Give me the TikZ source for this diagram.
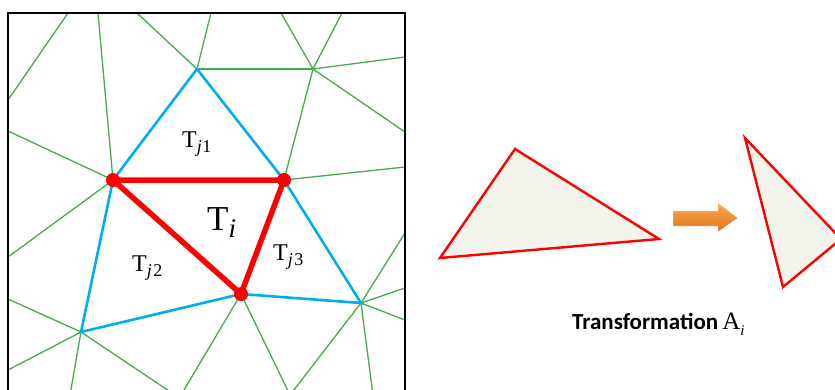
\documentclass[tikz,border=0pt]{standalone}
\usepackage{fontspec}
\setmainfont{Liberation Serif}
\newfontfamily\carlito{Carlito}
\definecolor{meshgreen}{RGB}{70,172,70}
\definecolor{meshblue}{RGB}{0,174,239}
\definecolor{trifill}{RGB}{243,242,235}
\definecolor{arrowtop}{RGB}{249,168,78}
\definecolor{arrowbot}{RGB}{226,116,30}
\tikzset{
  greenedge/.style={draw=meshgreen,line width=1.3pt},
  blueedge/.style={draw=meshblue,line width=2.6pt,line cap=round},
  rededge/.style={draw=red,line width=5.5pt,line cap=round},
  reddot/.style={fill=red},
  lbl/.style={anchor=base west,inner sep=0pt},
  tri/.style={draw=red,fill=trifill,line width=2.4pt,line join=miter},
}
\begin{document}
\begin{tikzpicture}[x=1pt,y=-1pt]
\useasboundingbox (0,0) rectangle (835,389);
% mesh vertices
\coordinate (A) at (197,69);
\coordinate (B) at (113,180);
\coordinate (C) at (284,180);
\coordinate (D) at (241,294);
\coordinate (E) at (81,332);
\coordinate (F) at (361,303);
\coordinate (G) at (313,69);
% boundary points
\coordinate (t1) at (68,13);  \coordinate (t2) at (98,13);
\coordinate (t3) at (137,13); \coordinate (t4) at (211,13);
\coordinate (t5) at (281,13); \coordinate (t6) at (342,13);
\coordinate (l1) at (8,100);  \coordinate (l2) at (8,131);
\coordinate (l3) at (8,257);  \coordinate (l4) at (8,299);
\coordinate (l5) at (8,370);
\coordinate (r1) at (405,57);  \coordinate (r2) at (405,132);
\coordinate (r3) at (405,167); \coordinate (r4) at (405,233);
\coordinate (r5) at (405,288); \coordinate (r6) at (405,320);
\coordinate (b1) at (70,395);  \coordinate (b2) at (175,395);
\coordinate (b3) at (181,395); \coordinate (b4) at (290,395);
\coordinate (b5) at (373,395);
\begin{scope}
\clip (8,13) rectangle (405,389);
\draw[greenedge] (t1) -- (l1);
\draw[greenedge] (t2) -- (B);
\draw[greenedge] (t3) -- (A);
\draw[greenedge] (t4) -- (A);
\draw[greenedge] (A) -- (G);
\draw[greenedge] (t5) -- (G);
\draw[greenedge] (t6) -- (G);
\draw[greenedge] (G) -- (r1);
\draw[greenedge] (G) -- (r2);
\draw[greenedge] (G) -- (C);
\draw[greenedge] (C) -- (r3);
\draw[greenedge] (l2) -- (B);
\draw[greenedge] (B) -- (l3);
\draw[greenedge] (E) -- (l4);
\draw[greenedge] (E) -- (l5);
\draw[greenedge] (E) -- (b1);
\draw[greenedge] (E) -- (b2);
\draw[greenedge] (D) -- (b3);
\draw[greenedge] (D) -- (b4);
\draw[greenedge] (F) -- (b4);
\draw[greenedge] (F) -- (b5);
\draw[greenedge] (F) -- (r4);
\draw[greenedge] (F) -- (r5);
\draw[greenedge] (F) -- (r6);
% blue neighbours
\draw[blueedge] (B) -- (A) -- (C) -- (F) -- (D) -- (E) -- (B);
% red triangle
\draw[rededge] (B) -- (C) -- (D) -- cycle;
\end{scope}
\fill[reddot] (B) circle (7);
\fill[reddot] (C) circle (7);
\fill[reddot] (D) circle (7);
% frame
\draw[line width=1.5pt] (8,392) -- (8,13) -- (405,13) -- (405,392);
% labels
\node[lbl] (Tj1) at (182,147) {\fontsize{24}{28}\selectfont T\raisebox{-5pt}{\fontsize{18}{20}\selectfont\itshape j\kern0.5pt\upshape 1}};
\node[lbl] (Ti) at (207,230) {\fontsize{35}{40}\selectfont T\raisebox{-7pt}{\fontsize{27}{30}\selectfont\itshape i}};
\node[lbl] (Tj2) at (132,271) {\fontsize{24}{28}\selectfont T\raisebox{-5pt}{\fontsize{18}{20}\selectfont\itshape j\kern1.5pt\upshape 2}};
\node[lbl] (Tj3) at (273,260) {\fontsize{24}{28}\selectfont T\raisebox{-5pt}{\fontsize{18}{20}\selectfont\itshape j\kern1.5pt\upshape 3}};
% right side triangles
\coordinate (P1) at (515,149);
\coordinate (P2) at (659,239);
\coordinate (P3) at (440,258);
\draw[tri] (P1) -- (P2) -- (P3) -- cycle;
\begin{scope}
\clip (700,100) rectangle (835,320);
\coordinate (Q1) at (745,138);
\coordinate (Q2) at (783,287);
\coordinate (Q3) at (841,239);
\draw[tri] (Q1) -- (Q3) -- (Q2) -- cycle;
\end{scope}
% block arrow
\shade[top color=arrowtop,bottom color=arrowbot,draw=white,line width=0.4pt]
  (673,211) -- (718,211) -- (718,203) -- (738,218) -- (718,232) -- (718,226) -- (673,226) -- cycle;
% caption
\node[lbl] (cap) at (572,329) {{\fontsize{23}{26}\carlito\bfseries Transformation}\kern4pt{\fontsize{25}{28}\selectfont A}\raisebox{-6pt}{\fontsize{15}{17}\selectfont\itshape i}};
\end{tikzpicture}
\end{document}
